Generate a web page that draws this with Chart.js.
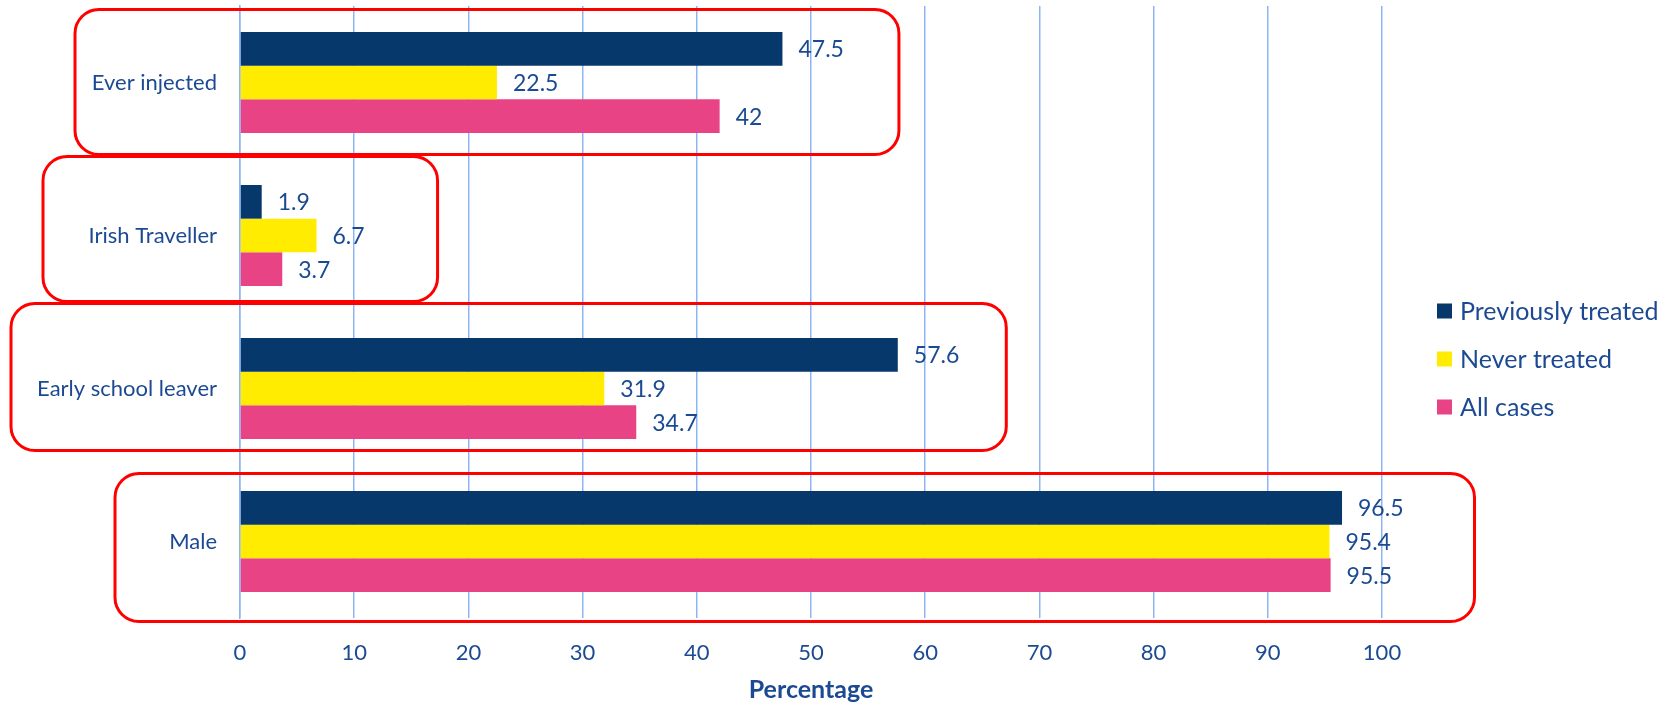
<!DOCTYPE html>
<html>
<head>
<meta charset="utf-8">
<script src="https://cdn.jsdelivr.net/npm/chart.js@4"></script>
<style>
  html, body { margin: 0; padding: 0; background: #fff; }
  #wrap { width: 1678px; height: 705px; }
</style>
</head>
<body>
<div id="wrap"><canvas id="myChart" width="1678" height="705"></canvas></div>
<script>
// data
const categories = ['Ever injected', 'Irish Traveller', 'Early school leaver', 'Male'];
const previouslyTreated = [47.5, 1.9, 57.6, 96.5];
const neverTreated = [22.5, 6.7, 31.9, 95.4];
const allCases = [42, 3.7, 34.7, 95.5];
const xTicks = [0, 10, 20, 30, 40, 50, 60, 70, 80, 90, 100];

// red hand-drawn boxes round each group (left edge px, right edge in %, top/bottom offset from row centre px)
const boxLeft = [75, 43, 11, 115];
const boxRight = [57.7, 17.3, 67.1, 108.1];
const boxTop = [-73, -79, -85, -68];
const boxBottom = [72, 66, 62, 80];

const textColor = '#1b4a93';
const gridColor = '#8db5f5';
const font = 'Lato, "Noto Sans", sans-serif';

const labelsPlugin = {
    id: 'extras',
    afterDatasetsDraw(chart) {
        const ctx = chart.ctx;
        ctx.save();
        ctx.font = '23px ' + font;
        ctx.fillStyle = textColor;
        ctx.textAlign = 'left';
        ctx.textBaseline = 'middle';
        chart.data.datasets.forEach((ds, i) => {
            chart.getDatasetMeta(i).data.forEach((bar, j) => {
                ctx.fillText(String(ds.data[j]), bar.x + 16, bar.y + 1);
            });
        });
        ctx.restore();
    },
    afterDraw(chart) {
        const ctx = chart.ctx;
        const x = chart.scales.x, y = chart.scales.y;
        ctx.save();
        ctx.strokeStyle = '#ff0000';
        ctx.lineWidth = 3;
        categories.forEach((c, i) => {
            const cy = y.getPixelForValue(i);
            const left = boxLeft[i];
            const right = x.getPixelForValue(boxRight[i]);
            const top = cy + boxTop[i];
            const bottom = cy + boxBottom[i];
            ctx.beginPath();
            ctx.roundRect(left, top, right - left, bottom - top, 24);
            ctx.stroke();
        });

        // legend
        ctx.font = '25px ' + font;
        ctx.textBaseline = 'middle';
        ctx.textAlign = 'left';
        chart.data.datasets.forEach((ds, i) => {
            const ly = 311 + i * 48;
            ctx.fillStyle = ds.backgroundColor;
            ctx.fillRect(1437, ly - 7.5, 15, 15);
            ctx.fillStyle = textColor;
            ctx.fillText(ds.label, 1460, ly + 1);
        });
        ctx.restore();
    }
};

const ctx = document.getElementById('myChart').getContext('2d');
const myChart = new Chart(ctx, {
    type: 'bar',
    data: {
        labels: categories,
        datasets: [
            { label: 'Previously treated', data: previouslyTreated, backgroundColor: '#06386c' },
            { label: 'Never treated', data: neverTreated, backgroundColor: '#ffec00' },
            { label: 'All cases', data: allCases, backgroundColor: '#e84485' }
        ]
    },
    options: {
        indexAxis: 'y',
        responsive: false,
        animation: false,
        devicePixelRatio: 1,
        layout: { padding: { top: 6, right: 296, left: 0, bottom: 0 } },
        datasets: { bar: { barPercentage: 1, categoryPercentage: 0.66 } },
        plugins: {
            legend: { display: false },
            tooltip: { enabled: false }
        },
        scales: {
            x: {
                min: 0,
                max: 100,
                afterBuildTicks: s => { s.ticks = xTicks.map(v => ({ value: v })); },
                afterFit: s => { s.height = 87; },
                grid: { color: gridColor, lineWidth: 1.5, drawTicks: false },
                border: { display: false },
                ticks: { color: textColor, font: { family: font, size: 22 }, padding: 22 },
                title: {
                    display: true,
                    text: 'Percentage',
                    color: textColor,
                    font: { family: font, size: 25, weight: 'bold' },
                    padding: 0
                }
            },
            y: {
                afterFit: s => {
                    s.width = 240;
                    s.paddingTop = 0;
                    s.paddingBottom = 0;
                },
                grid: { display: false, drawTicks: false },
                border: { display: true, color: gridColor, width: 1.5 },
                ticks: { color: textColor, font: { family: font, size: 22 }, padding: 23 }
            }
        }
    },
    plugins: [labelsPlugin]
});
</script>
</body>
</html>
